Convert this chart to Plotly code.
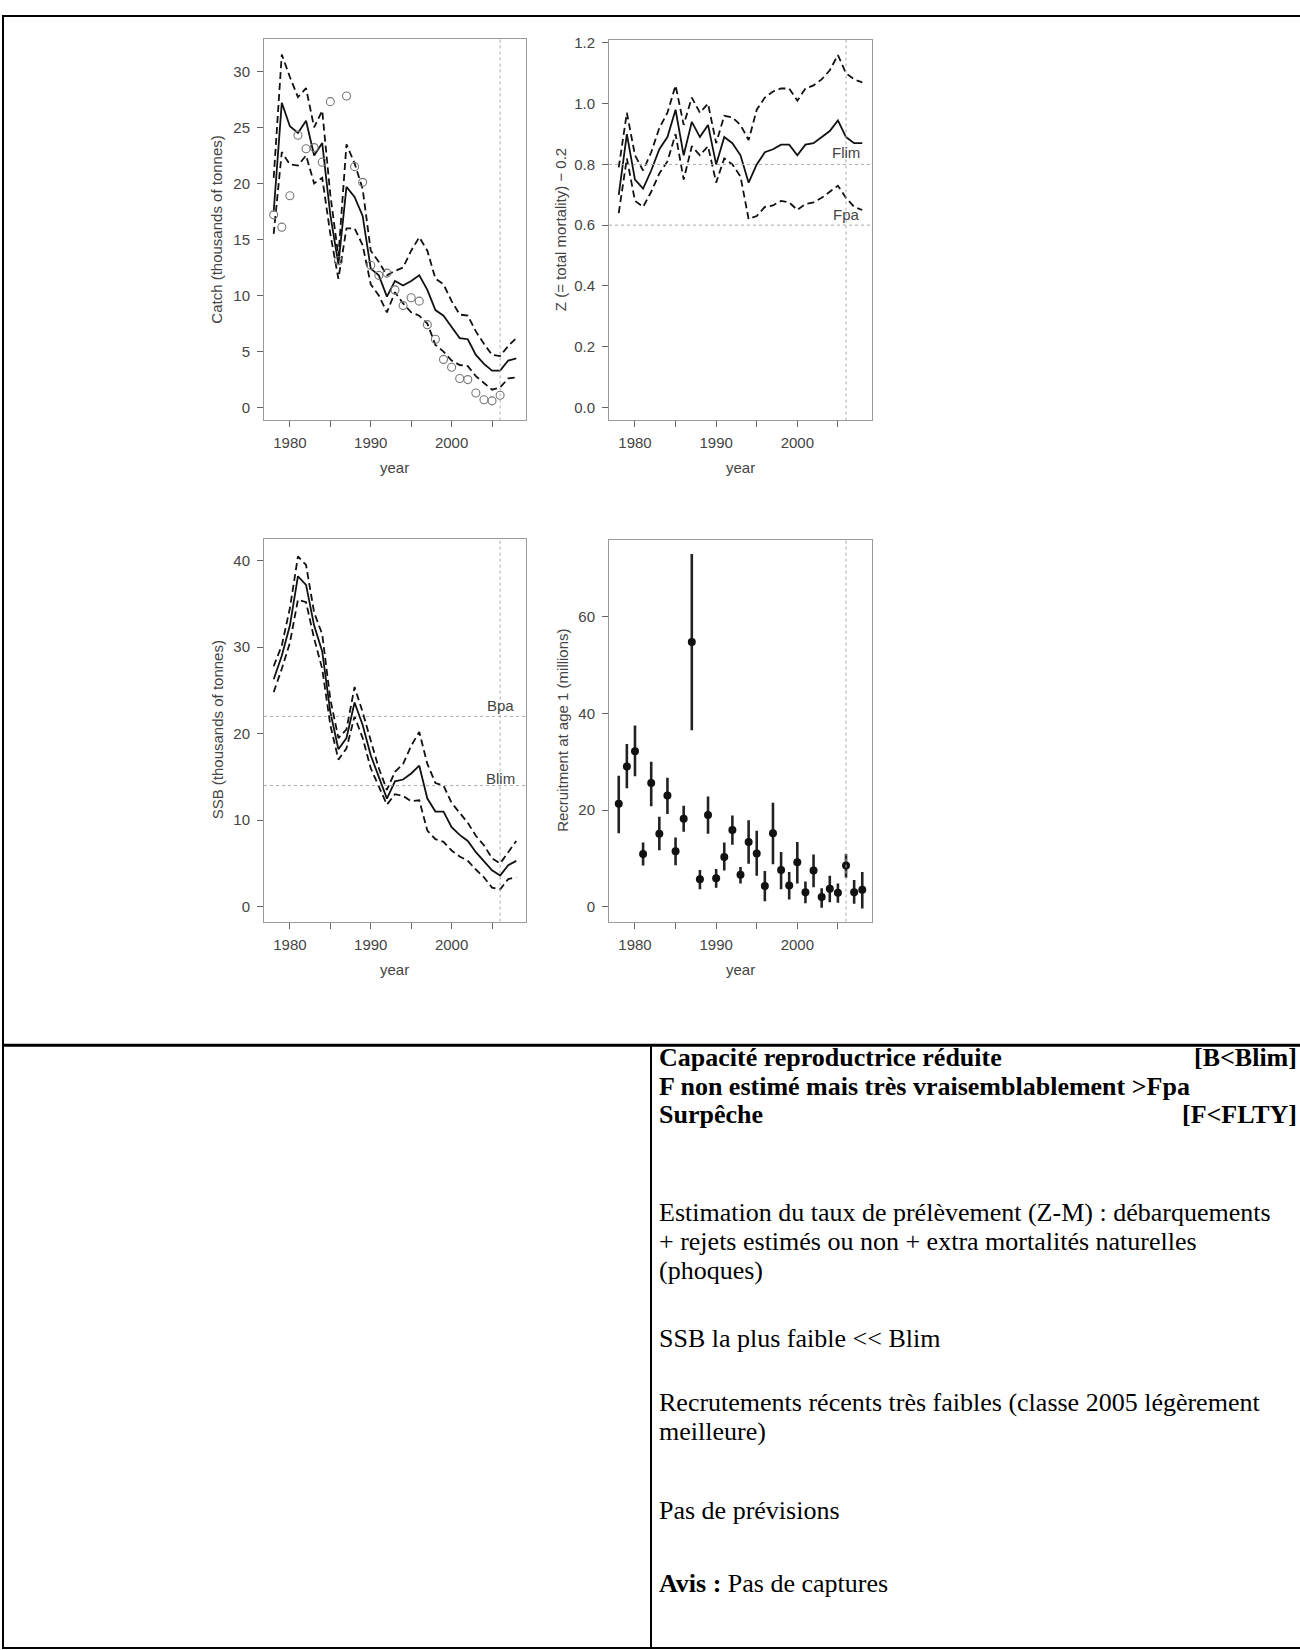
import plotly.graph_objects as go

W, H = 1300, 1650

YEARS = [1978, 1979, 1980, 1981, 1982, 1983, 1984, 1985, 1986, 1987, 1988, 1989,
         1990, 1991, 1992, 1993, 1994, 1995, 1996, 1997, 1998, 1999, 2000, 2001,
         2002, 2003, 2004, 2005, 2006, 2007, 2008]
OBS_YEARS = YEARS[:29]

CATCH_EST = [17.5, 27.2, 25.1, 24.5, 25.6, 22.5, 23.6, 17.2, 12.8, 19.7, 18.8, 17.1, 12.4, 11.8, 9.9, 11.3,
             10.9, 11.3, 11.8, 10.5, 8.7, 8.2, 7.2, 6.2, 6.1, 4.7, 3.9, 3.3, 3.3, 4.2, 4.4]
CATCH_HI = [20.5, 31.5, 29.5, 27.7, 28.5, 25.0, 26.5, 19.0, 13.5, 23.5, 21.8, 19.5, 14.0, 13.0, 11.8, 12.2,
            12.5, 14.0, 15.2, 14.0, 11.5, 11.0, 9.5, 8.3, 8.2, 6.8, 5.7, 4.7, 4.6, 5.5, 6.2]
CATCH_LO = [15.5, 22.8, 21.7, 21.6, 22.5, 20.0, 20.5, 15.5, 11.5, 16.0, 16.0, 14.5, 11.0, 10.0, 8.5, 10.3,
            9.3, 8.5, 8.2, 7.5, 5.6, 5.0, 4.2, 3.8, 3.7, 2.8, 2.2, 1.6, 1.8, 2.6, 2.7]
CATCH_OBS = [17.2, 16.1, 18.9, 24.3, 23.1, 23.2, 21.9, 27.3, 13.1, 27.8, 21.5, 20.1, 12.7, 11.8, 12.0, 10.5,
             9.1, 9.8, 9.5, 7.4, 6.1, 4.3, 3.6, 2.6, 2.5, 1.3, 0.7, 0.6, 1.1]

Z_EST = [0.70, 0.90, 0.75, 0.72, 0.78, 0.85, 0.89, 0.98, 0.83, 0.94, 0.89, 0.93, 0.80, 0.89, 0.87, 0.83,
         0.74, 0.80, 0.84, 0.85, 0.865, 0.865, 0.83, 0.865, 0.87, 0.89, 0.91, 0.945, 0.89, 0.87, 0.87]
Z_HI = [0.79, 0.97, 0.83, 0.78, 0.84, 0.92, 0.97, 1.06, 0.93, 1.02, 0.97, 1.00, 0.87, 0.96, 0.955, 0.93,
        0.88, 0.98, 1.02, 1.04, 1.05, 1.05, 1.01, 1.05, 1.06, 1.08, 1.11, 1.16, 1.10, 1.08, 1.07]
Z_LO = [0.64, 0.82, 0.68, 0.66, 0.71, 0.77, 0.81, 0.90, 0.75, 0.86, 0.83, 0.86, 0.74, 0.82, 0.80, 0.76,
        0.62, 0.63, 0.66, 0.665, 0.68, 0.675, 0.65, 0.67, 0.675, 0.69, 0.71, 0.73, 0.69, 0.66, 0.65]

SSB_EST = [26.3, 29.0, 32.5, 38.2, 37.2, 32.5, 29.5, 22.5, 18.2, 19.5, 23.6, 21.0, 17.5, 15.0, 12.5, 14.5,
           14.7, 15.4, 16.3, 12.5, 11.0, 11.0, 9.2, 8.3, 7.6, 6.3, 5.3, 4.2, 3.6, 4.8, 5.3]
SSB_HI = [27.8, 30.2, 34.5, 40.5, 39.5, 34.0, 31.5, 24.0, 19.5, 20.5, 25.4, 22.5, 19.2, 16.0, 13.5, 15.6,
          16.5, 18.6, 20.2, 16.5, 14.3, 14.0, 12.0, 10.8, 9.7, 8.2, 7.1, 5.6, 5.0, 6.3, 7.6]
SSB_LO = [24.8, 27.5, 30.5, 35.5, 35.2, 31.0, 27.5, 21.0, 17.0, 18.3, 22.0, 19.5, 16.0, 14.0, 11.8, 13.0,
          12.8, 12.2, 12.3, 8.8, 7.8, 7.5, 6.5, 5.8, 5.3, 4.3, 3.4, 2.2, 2.0, 3.2, 3.4]

REC_EST = [21.3, 29.0, 32.2, 10.9, 25.6, 15.1, 23.0, 11.5, 18.2, 54.8, 5.7, 19.0, 5.9, 10.3, 15.9, 6.6,
           13.4, 11.0, 4.3, 15.2, 7.6, 4.4, 9.2, 3.0, 7.5, 2.0, 3.7, 2.9, 8.5, 3.0, 3.5]
REC_LO = [15.2, 24.5, 27.0, 8.5, 20.8, 11.7, 19.2, 8.6, 15.5, 36.5, 3.6, 15.1, 3.9, 7.5, 12.8, 4.8,
          8.9, 6.4, 1.1, 8.8, 3.6, 1.5, 4.8, 0.7, 4.0, -0.2, 0.9, 0.8, 6.0, 0.6, -0.4]
REC_HI = [27.1, 33.7, 37.5, 13.3, 30.0, 18.6, 26.7, 14.3, 20.9, 73.0, 7.6, 22.8, 7.8, 13.3, 18.9, 8.2,
          17.9, 15.7, 7.4, 21.5, 11.3, 7.2, 13.4, 5.2, 10.8, 3.8, 6.4, 4.8, 10.9, 5.5, 7.2]

REF_YEAR = 2006
FLIM, FPA = 0.8, 0.6
BPA, BLIM = 22, 14

X_TICKS = [1980, 1985, 1990, 1995, 2000, 2005]
X_TICKTEXT = ["1980", "", "1990", "", "2000", ""]
Y_TICKS = {
    1: [0, 5, 10, 15, 20, 25, 30],
    2: [0.0, 0.2, 0.4, 0.6, 0.8, 1.0, 1.2],
    3: [0, 10, 20, 30, 40],
    4: [0, 20, 40, 60],
}
Y_TICKTEXT = {
    1: ["0", "5", "10", "15", "20", "25", "30"],
    2: ["0.0", "0.2", "0.4", "0.6", "0.8", "1.0", "1.2"],
    3: ["0", "10", "20", "30", "40"],
    4: ["0", "20", "40", "60"],
}
Y_TITLES = {
    1: "Catch (thousands of tonnes)",
    2: "Z (= total mortality) \u2212 0.2",
    3: "SSB (thousands of tonnes)",
    4: "Recruitment at age 1 (millions)",
}

# layout (pixels)
BOX = {1: (264, 526, 33, 416), 2: (609, 872, 34, 416), 3: (264, 526, 535, 919), 4: (609, 872, 536, 919)}
YRANGE = {1: [-1.15, 32.9], 2: [-0.043, 1.21], 3: [-1.73, 42.5], 4: [-3.1, 75.9]}
XRANGE = [1976.8, 2009.2]


def px(x):
    return x / W


def py(y):
    return 1 - y / H


TICK_FONT = dict(family="Liberation Sans, Arial, sans-serif", size=15, color="#444")
BOX_COL = "#9a9a9a"

fig = go.Figure()

solid = dict(color="#111", width=1.8)
dashed = dict(color="#111", width=1.8, dash="7px,4px")

# Panel 1: catch
fig.add_trace(go.Scatter(x=YEARS, y=CATCH_HI, mode="lines", line=dashed, xaxis="x", yaxis="y"))
fig.add_trace(go.Scatter(x=YEARS, y=CATCH_LO, mode="lines", line=dashed, xaxis="x", yaxis="y"))
fig.add_trace(go.Scatter(x=YEARS, y=CATCH_EST, mode="lines", line=solid, xaxis="x", yaxis="y"))
fig.add_trace(go.Scatter(x=OBS_YEARS, y=CATCH_OBS, mode="markers",
                         marker=dict(symbol="circle-open", size=8, color="#777", line=dict(width=1.1)),
                         xaxis="x", yaxis="y"))

# Panel 2: Z
fig.add_trace(go.Scatter(x=YEARS, y=Z_HI, mode="lines", line=dashed, xaxis="x2", yaxis="y2"))
fig.add_trace(go.Scatter(x=YEARS, y=Z_LO, mode="lines", line=dashed, xaxis="x2", yaxis="y2"))
fig.add_trace(go.Scatter(x=YEARS, y=Z_EST, mode="lines", line=solid, xaxis="x2", yaxis="y2"))

# Panel 3: SSB
fig.add_trace(go.Scatter(x=YEARS, y=SSB_HI, mode="lines", line=dashed, xaxis="x3", yaxis="y3"))
fig.add_trace(go.Scatter(x=YEARS, y=SSB_LO, mode="lines", line=dashed, xaxis="x3", yaxis="y3"))
fig.add_trace(go.Scatter(x=YEARS, y=SSB_EST, mode="lines", line=solid, xaxis="x3", yaxis="y3"))

# Panel 4: recruitment
err_plus = [h - e for h, e in zip(REC_HI, REC_EST)]
err_minus = [e - l for e, l in zip(REC_EST, REC_LO)]
fig.add_trace(go.Scatter(x=YEARS, y=REC_EST, mode="markers",
                         marker=dict(symbol="circle", size=8, color="#111"),
                         error_y=dict(type="data", symmetric=False, array=err_plus, arrayminus=err_minus,
                                      color="#222", thickness=2.6, width=0),
                         xaxis="x4", yaxis="y4"))

layout = dict(
    width=W, height=H, margin=dict(l=0, r=0, t=0, b=0),
    paper_bgcolor="white", plot_bgcolor="white", showlegend=False,
)

for i in range(1, 5):
    x0, x1, y0, y1 = BOX[i]
    xa = "xaxis" if i == 1 else f"xaxis{i}"
    ya = "yaxis" if i == 1 else f"yaxis{i}"
    layout[xa] = dict(
        domain=[px(x0), px(x1)], range=XRANGE, anchor=("y" if i == 1 else f"y{i}"),
        tickmode="array", tickvals=X_TICKS, ticktext=X_TICKTEXT,
        ticks="outside", ticklen=6, tickcolor="#666", tickwidth=1,
        showline=True, mirror=True, linecolor=BOX_COL, linewidth=1,
        showgrid=False, zeroline=False, tickfont=TICK_FONT, ticklabelstandoff=3,
    )
    layout[ya] = dict(
        domain=[py(y1), py(y0)], range=YRANGE[i], anchor=("x" if i == 1 else f"x{i}"),
        tickmode="array", tickvals=Y_TICKS[i], ticktext=Y_TICKTEXT[i],
        ticks="outside", ticklen=6, tickcolor="#666", tickwidth=1,
        showline=True, mirror=True, linecolor=BOX_COL, linewidth=1,
        showgrid=False, zeroline=False, tickfont=TICK_FONT, ticklabelstandoff=4,
    )

fig.update_layout(**layout)

shapes = []
# vertical dotted reference year line in every panel
for i in range(1, 5):
    xr = "x" if i == 1 else f"x{i}"
    yr = "y" if i == 1 else f"y{i}"
    shapes.append(dict(type="line", xref=xr, yref=f"{yr} domain", x0=REF_YEAR, x1=REF_YEAR, y0=0, y1=1,
                       line=dict(color="#aaa", width=1, dash="dot")))
for val, ax in [(FLIM, "y2"), (FPA, "y2"), (BPA, "y3"), (BLIM, "y3")]:
    xr = "x2" if ax == "y2" else "x3"
    shapes.append(dict(type="line", xref=f"{xr} domain", yref=ax, x0=0, x1=1, y0=val, y1=val,
                       line=dict(color="#aaa", width=1, dash="dot")))

# table lines
TL = "#000"
DIV_X = 651
shapes += [
    dict(type="line", xref="paper", yref="paper", x0=px(2), x1=px(1300), y0=py(10), y1=py(10),
         line=dict(color=TL, width=2)),
    dict(type="line", xref="paper", yref="paper", x0=px(3), x1=px(3), y0=py(10), y1=py(1649),
         line=dict(color=TL, width=2)),
    dict(type="line", xref="paper", yref="paper", x0=px(2), x1=px(1300), y0=py(1043), y1=py(1043),
         line=dict(color=TL, width=3)),
    dict(type="line", xref="paper", yref="paper", x0=px(DIV_X), x1=px(DIV_X), y0=py(1043), y1=py(1649),
         line=dict(color=TL, width=2)),
    dict(type="line", xref="paper", yref="paper", x0=px(2), x1=px(1300), y0=py(1648), y1=py(1648),
         line=dict(color=TL, width=2)),
]
fig.update_layout(shapes=shapes)

ann = []
LBL_FONT = dict(family="Liberation Sans, Arial, sans-serif", size=15, color="#444")
# axis titles
YT_X = {1: 217, 2: 560, 3: 217, 4: 563}
XT_Y = {1: 463, 2: 463, 3: 967, 4: 967}
for i in range(1, 5):
    x0, x1, y0, y1 = BOX[i]
    ann.append(dict(xref="paper", yref="paper", x=px(YT_X[i]), y=py((y0 + y1) / 2), text=Y_TITLES[i],
                    textangle=-90, showarrow=False, font=LBL_FONT, xanchor="center", yanchor="middle"))
    ann.append(dict(xref="paper", yref="paper", x=px((x0 + x1) / 2), y=py(XT_Y[i]), text="year",
                    showarrow=False, font=LBL_FONT, xanchor="center", yanchor="middle"))

# reference labels
for txt, val, xr, yr, shift in [("Flim", FLIM, "x2", "y2", 12), ("Fpa", FPA, "x2", "y2", 11),
                                ("Bpa", BPA, "x3", "y3", 11), ("Blim", BLIM, "x3", "y3", 7)]:
    ann.append(dict(xref=xr, yref=yr, x=REF_YEAR, y=val, text=txt, showarrow=False, font=LBL_FONT,
                    xanchor="center", yanchor="middle", yshift=shift))

# text cell
SERIF = "Liberation Serif, Times New Roman, serif"
TXT_X = px(658)
TXT_SIZE = 26
TEXT_LINES = [
    ("<b>Capacité reproductrice réduite</b>", 1055),
    ("<b>F non estimé mais très vraisemblablement &gt;Fpa</b>", 1084),
    ("<b>Surpêche</b>", 1113),
    ("Estimation du taux de prélèvement (Z-M) : débarquements", 1211),
    ("+ rejets estimés ou non + extra mortalités naturelles", 1240),
    ("(phoques)", 1269),
    ("SSB la plus faible &lt;&lt; Blim", 1337),
    ("Recrutements récents très faibles (classe 2005 légèrement", 1402),
    ("meilleure)", 1431),
    ("Pas de prévisions", 1510),
    ("<b>Avis :</b> Pas de captures", 1583),
]
for txt, y in TEXT_LINES:
    ann.append(dict(xref="paper", yref="paper", x=TXT_X, y=py(y), text=txt, showarrow=False,
                    font=dict(family=SERIF, size=TXT_SIZE, color="#000"), xanchor="left", yanchor="middle",
                    borderpad=0))
for txt, y in [("<b>[B&lt;Blim]</b>", 1055), ("<b>[F&lt;FLTY]</b>", 1113)]:
    ann.append(dict(xref="paper", yref="paper", x=px(1298), y=py(y), text=txt, showarrow=False,
                    font=dict(family=SERIF, size=TXT_SIZE, color="#000"), xanchor="right", yanchor="middle",
                    borderpad=0))

fig.update_layout(annotations=ann)

fig.write_html("out.html", config={"displayModeBar": False},
               post_script="document.body.style.margin='0px';document.body.style.overflow='hidden';")
